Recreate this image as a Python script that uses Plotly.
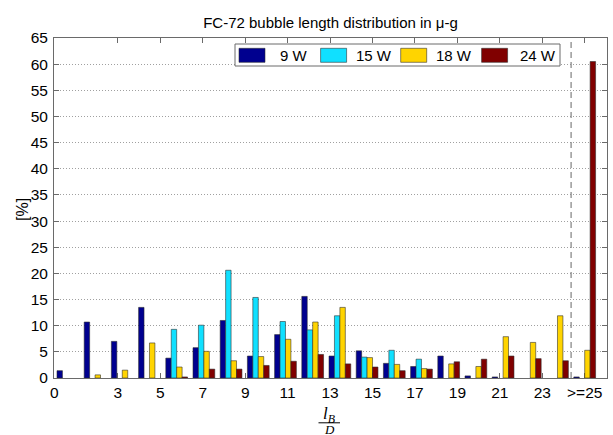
import plotly.graph_objects as go

# ---------------- data ----------------
series_names = ["9 W", "15 W", "18 W", "24 W"]
series_colors = ["#00008F", "#10E0FF", "#FFD400", "#800000"]

# 20 length bins (group index 1..20), last one is ">=25"
w9 = [1.4, 10.7, 7.0, 13.5, 3.8, 5.8, 11.0, 4.2, 8.3, 15.6, 4.2, 5.2, 2.8, 2.2, 4.2, 0.4, 0.2, 0.0, 0.0, 0.2]
w15 = [0.0, 0.0, 0.0, 0.0, 9.3, 10.1, 20.6, 15.4, 10.8, 9.2, 11.9, 4.0, 5.3, 3.6, 0.0, 0.0, 0.0, 0.0, 0.0, 0.0]
w18 = [0.0, 0.6, 1.5, 6.7, 2.1, 5.1, 3.3, 4.1, 7.4, 10.7, 13.5, 3.9, 2.6, 1.8, 2.7, 2.2, 7.9, 6.8, 11.9, 5.3]
w24 = [0.0, 0.0, 0.0, 0.0, 0.2, 1.7, 1.7, 2.4, 3.2, 4.5, 2.7, 2.1, 1.4, 1.7, 3.1, 3.6, 4.2, 3.7, 3.3, 60.5]
all_series = [w9, w15, w18, w24]

tick_values = [0, 3, 5, 7, 9, 11, 13, 15, 17, 19, 21, 23, 25]
tick_labels = ["0", "3", "5", "7", "9", "11", "13", "15", "17", "19", "21", "23", ">=25"]

title_text = "FC-72 bubble length distribution in \u03bc-g"

# ---------------- geometry ----------------
W, H = 613, 435
L, R, T, B = 54, 6, 38, 57
PW, PH = W - L - R, H - T - B

n = len(w9)
groups = list(range(1, n + 1))
x_range = [0.49, 20.82]
# map label value -> group-axis position
tick_pos = [0.5 + v * (n - 0.5) / tick_values[-1] for v in tick_values]


def px(xp):
    return (xp - L) / PW


def py(yp):
    return (H - B - yp) / PH


FONT = "Liberation Sans, Arial, sans-serif"
SERIF = "Liberation Serif, Times New Roman, serif"
FRAME = "#6a6a6a"

fig = go.Figure()
for name, col, vals in zip(series_names, series_colors, all_series):
    fig.add_trace(go.Bar(
        x=groups, y=[v if v > 0 else None for v in vals], name=name,
        marker=dict(color=col, line=dict(color="rgba(40,40,40,0.8)", width=0.7)),
        showlegend=False,
    ))

shapes = []
# dashed divider between the last two bins
divider = (groups[-2] + groups[-1]) / 2
shapes.append(dict(type="line", xref="x", yref="paper", x0=divider, x1=divider, y0=0, y1=1,
                   line=dict(color="#808080", width=1.2, dash="6px,4px"), layer="above"))

# manual legend
shapes.append(dict(type="rect", xref="paper", yref="paper", x0=px(235), x1=px(560), y0=py(66), y1=py(44),
                   fillcolor="white", line=dict(color=FRAME, width=1), layer="above"))
sw_x = [239, 320.6, 400.7, 481.6]
txt_x = [278, 354, 434, 518]
annotations = []
for sx, tx, name, col in zip(sw_x, txt_x, series_names, series_colors):
    shapes.append(dict(type="rect", xref="paper", yref="paper", x0=px(sx), x1=px(sx + 26),
                       y0=py(62.3), y1=py(48.3), fillcolor=col,
                       line=dict(color="rgba(40,40,40,0.8)", width=0.7), layer="above"))
    annotations.append(dict(text=name, xref="paper", yref="paper", x=px(tx), y=py(55.5),
                            xanchor="left", yanchor="middle", showarrow=False,
                            font=dict(family=FONT, size=15, color="black")))

# x-axis label as fraction l_B / D
annotations.append(dict(text="<i>l</i><sub><i>B</i></sub>", xref="paper", yref="paper",
                        x=px(329), y=py(415), xanchor="center", yanchor="middle", showarrow=False,
                        borderpad=0, font=dict(family=SERIF, size=17, color="black")))
shapes.append(dict(type="line", xref="paper", yref="paper", x0=px(318.5), x1=px(340),
                   y0=py(422.8), y1=py(422.8), line=dict(color="black", width=1)))
annotations.append(dict(text="<i>D</i>", xref="paper", yref="paper",
                        x=px(329), y=py(429.5), xanchor="center", yanchor="middle", showarrow=False,
                        borderpad=0, font=dict(family=SERIF, size=13, color="black")))
# y-axis label
annotations.append(dict(text="[%]", xref="paper", yref="paper", x=px(22), y=py(210),
                        xanchor="center", yanchor="middle", textangle=-90, showarrow=False,
                        font=dict(family=FONT, size=16, color="black")))

fig.update_layout(
    width=W, height=H,
    margin=dict(l=L, r=R, t=T, b=B),
    paper_bgcolor="white", plot_bgcolor="white",
    barmode="group", bargap=0.2, bargroupgap=0.0,
    font=dict(family=FONT, size=15, color="black"),
    title=dict(text=title_text, x=px(330.5), xref="paper", xanchor="center",
               y=(H - 23) / H, yref="container", yanchor="middle",
               font=dict(family=FONT, size=15, color="black")),
    shapes=shapes, annotations=annotations,
    xaxis=dict(range=x_range, tickmode="array", tickvals=tick_pos, ticktext=tick_labels,
               ticks="inside", ticklen=5, tickcolor=FRAME, showline=True, linecolor=FRAME,
               linewidth=1, mirror="ticks", showgrid=False, zeroline=False,
               layer="below traces", tickfont=dict(size=15.5), ticklabelstandoff=0),
    yaxis=dict(range=[0, 65], tickmode="linear", tick0=0, dtick=5,
               ticks="inside", ticklen=5, tickcolor=FRAME, showline=True, linecolor=FRAME,
               linewidth=1, mirror="ticks", showgrid=True, gridcolor="#a0a0a0",
               griddash="1px,2px", gridwidth=1, zeroline=False, layer="below traces",
               tickfont=dict(size=15.5), ticklabelstandoff=2),
)

fig.write_html("out.html")
